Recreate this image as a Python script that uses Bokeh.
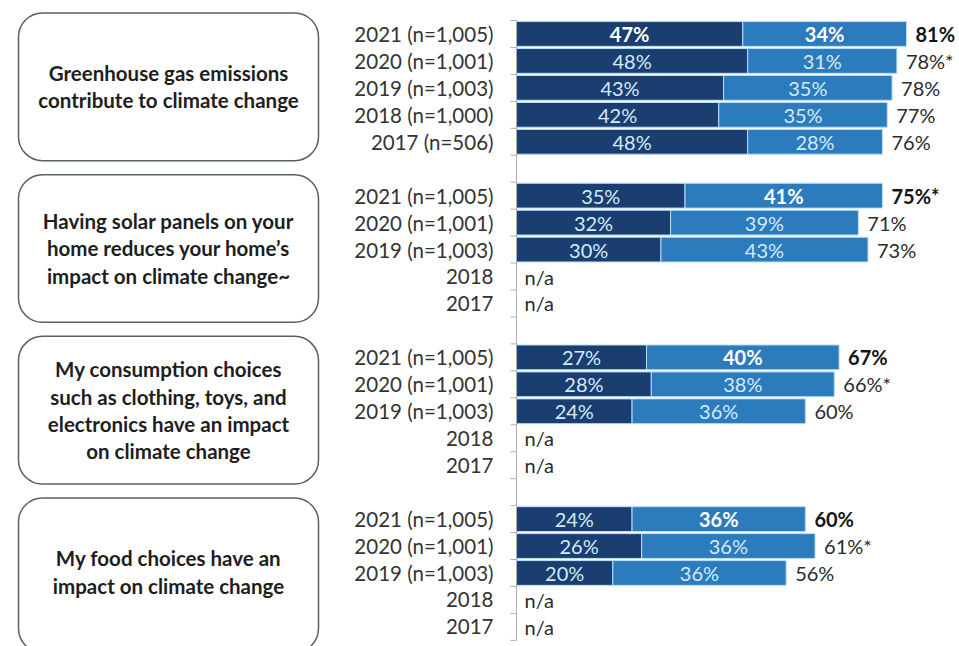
from bokeh.plotting import figure
from bokeh.models import Range1d, BoxAnnotation
from bokeh.core.properties import value
from bokeh.embed import file_html
from bokeh.resources import INLINE

# ---------------- data ----------------
statements = [
    "Greenhouse gas emissions\ncontribute to climate change",
    "Having solar panels on your\nhome reduces your home\u2019s\nimpact on climate change~",
    "My consumption choices\nsuch as clothing, toys, and\nelectronics have an impact\non climate change",
    "My food choices have an\nimpact on climate change",
]
year_labels_1 = ["2021 (n=1,005)", "2020 (n=1,001)", "2019 (n=1,003)", "2018 (n=1,000)", "2017 (n=506)"]
year_labels_2 = ["2021 (n=1,005)", "2020 (n=1,001)", "2019 (n=1,003)", "2018", "2017"]
year_labels = [year_labels_1, year_labels_2, year_labels_2, year_labels_2]

strongly = [
    [47, 48, 43, 42, 48],
    [35, 32, 30, None, None],
    [27, 28, 24, None, None],
    [24, 26, 20, None, None],
]
somewhat = [
    [34, 31, 35, 35, 28],
    [41, 39, 43, None, None],
    [40, 38, 36, None, None],
    [36, 36, 36, None, None],
]
totals = [
    ["81%", "78%*", "78%", "77%", "76%"],
    ["75%*", "71%", "73%", None, None],
    ["67%", "66%*", "60%", None, None],
    ["60%", "61%*", "56%", None, None],
]

# ---------------- styling ----------------
DARK = "#1b3e70"
MID = "#2c7bbd"
FONT = "Lato"
W, H = 959, 646
PX_PER_PCT = 4.815
AXIS_PX = 516          # canvas x of the zero line
ROW_PX = 26.95
ROW0_PX = 20           # canvas y of first row boundary

x_start = -AXIS_PX / PX_PER_PCT
x_end = (W - AXIS_PX) / PX_PER_PCT
y_end = ROW0_PX / ROW_PX
y_start = -(H - ROW0_PX) / ROW_PX


def px2x(px):
    return (px - AXIS_PX) / PX_PER_PCT


def rowy(r):
    return -(r + 0.5)


p = figure(width=W, height=H, output_backend="svg", toolbar_location=None,
           x_range=Range1d(x_start, x_end), y_range=Range1d(y_start, y_end),
           min_border=0)
p.axis.visible = False
p.grid.visible = False
p.outline_line_color = None
p.background_fill_color = "white"
p.border_fill_color = "white"

# rows
bars_y, bars_l, bars_r, bars_c = [], [], [], []
seg_x, seg_y, seg_t, seg_bold = [], [], [], []
tot_x, tot_y, tot_t, tot_bold = [], [], [], []
cat_y, cat_t = [], []
na_y = []
for g in range(4):
    for k in range(5):
        r = 6 * g + k
        y = rowy(r)
        cat_y.append(y)
        cat_t.append(year_labels[g][k])
        d = strongly[g][k]
        s = somewhat[g][k]
        if d is None:
            na_y.append(y)
            continue
        bars_y += [y, y]
        bars_l += [0, d]
        bars_r += [d, d + s]
        bars_c += [DARK, MID]
        seg_x += [d / 2, d + s / 2]
        seg_y += [y, y]
        seg_t += [f"{d}%", f"{s}%"]
        if k == 0:
            seg_bold += [g == 0, True]
        else:
            seg_bold += [False, False]
        tot_x.append(d + s)
        tot_y.append(y)
        tot_t.append(totals[g][k])
        tot_bold.append(k == 0)

p.hbar(y=bars_y, left=bars_l, right=bars_r, height=0.92, fill_color=bars_c,
       line_color="#b9ddf2", line_width=1)

FS = "20px"
# segment labels
for bold in (False, True):
    idx = [i for i in range(len(seg_t)) if seg_bold[i] == bold]
    p.text(x=[seg_x[i] for i in idx], y=[seg_y[i] for i in idx], text=[seg_t[i] for i in idx],
           text_align="center", text_baseline="middle", text_font=value(FONT),
           text_font_size=FS, text_font_style="bold" if bold else "normal",
           text_color="#ffffff" if bold else "#d3ebf8")

# totals
for bold in (False, True):
    idx = [i for i in range(len(tot_t)) if tot_bold[i] == bold]
    p.text(x=[tot_x[i] for i in idx], y=[tot_y[i] for i in idx], text=[tot_t[i] for i in idx],
           x_offset=9, text_align="left", text_baseline="middle", text_font=value(FONT),
           text_font_size=FS, text_font_style="bold" if bold else "normal",
           text_color="#141414" if bold else "#2b2b2b")

# n/a
p.text(x=[0] * len(na_y), y=na_y, text=["n/a"] * len(na_y), x_offset=8,
       text_align="left", text_baseline="middle", text_font=value(FONT),
       text_font_size=FS, text_color="#2b2b2b")

# category labels
p.text(x=[0] * len(cat_y), y=cat_y, text=cat_t, x_offset=-23,
       text_align="right", text_baseline="middle", text_font=value(FONT),
       text_font_size="20.5px", text_color="#333333")

# axis line and ticks at row boundaries
n_rows = 23
p.segment(x0=[0], y0=[0], x1=[0], y1=[-n_rows], line_color="#b0b0b0", line_width=1)
tick_len = 6 / PX_PER_PCT
p.segment(x0=[-tick_len] * (n_rows + 1), y0=[-r for r in range(n_rows + 1)],
          x1=[0] * (n_rows + 1), y1=[-r for r in range(n_rows + 1)],
          line_color="#b0b0b0", line_width=1)

# statement boxes
box_left, box_right = px2x(18), px2x(318)
for g, txt in enumerate(statements):
    top = -(6 * g - 0.28)
    bottom = -(6 * g + (5.2 if g < 3 else 5.45))
    p.add_layout(BoxAnnotation(left=box_left, right=box_right, top=top, bottom=bottom,
                               fill_color="white", fill_alpha=1.0,
                               line_color="#56606b", line_alpha=1.0, line_width=1.5,
                               border_radius=24, level="underlay"))
    cy = -(6 * g + 2.46)
    p.text(x=[(box_left + box_right) / 2], y=[cy], text=[txt],
           text_align="center", text_baseline="middle", text_font=value(FONT),
           text_font_size="20.5px", text_font_style="bold", text_color="#1e1e1e",
           text_line_height=1.14)

open("out.html", "w").write(file_html(p, INLINE))
